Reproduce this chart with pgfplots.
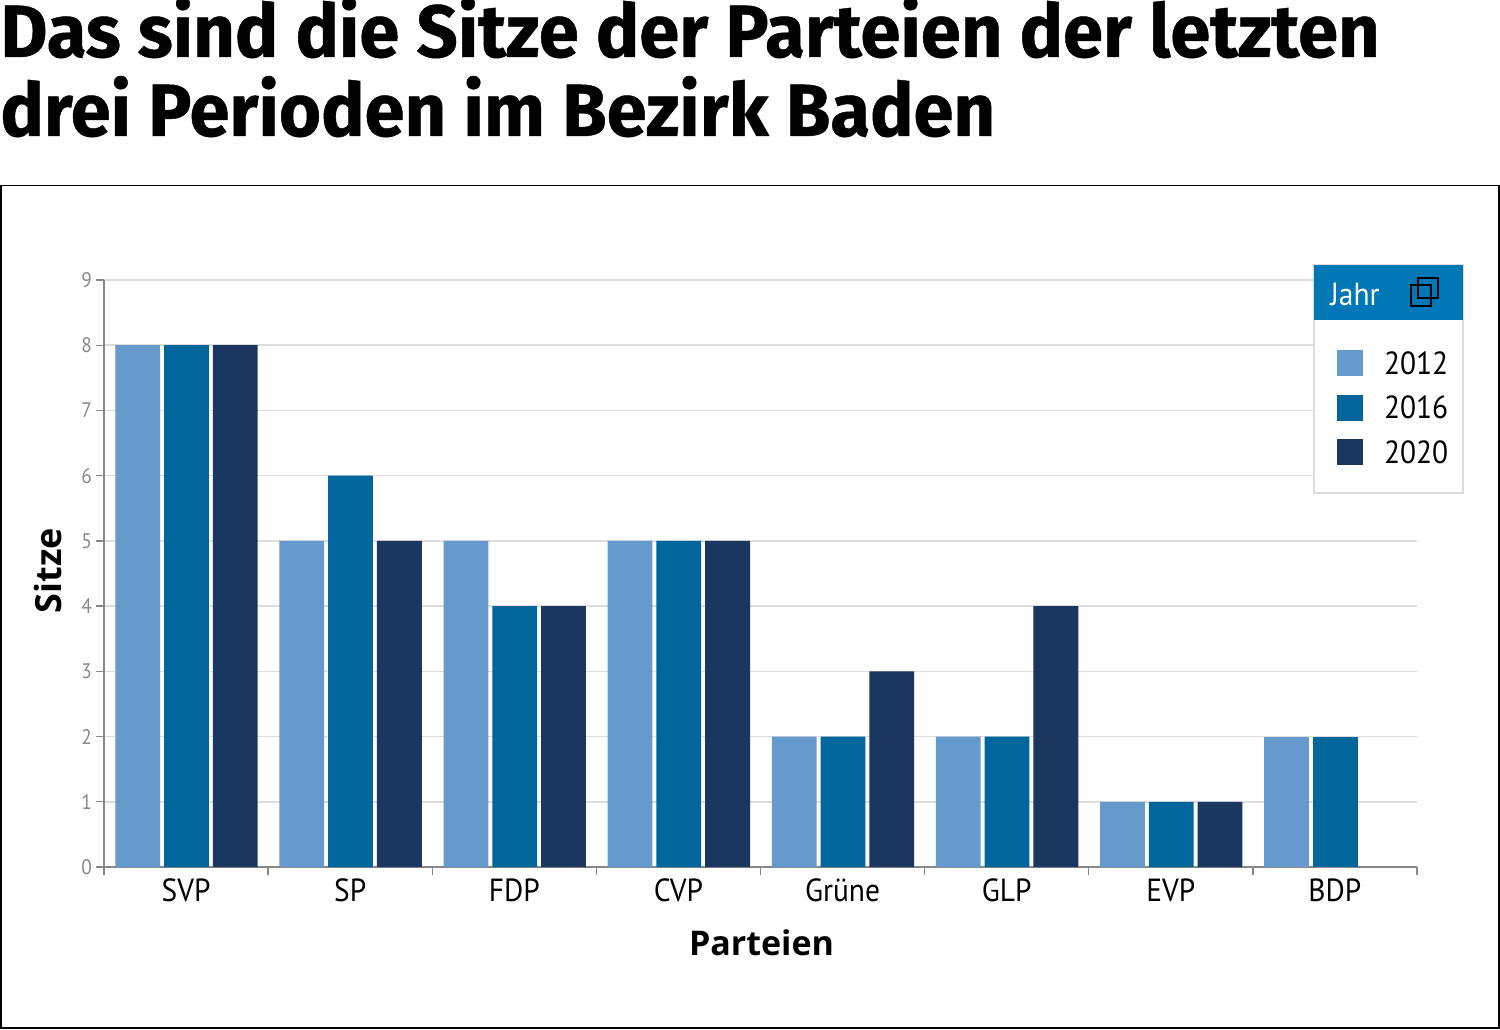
\documentclass[border=0pt]{standalone}
\usepackage{pgfplots}
\pgfplotsset{compat=1.18}
\usepackage{fontspec}
\setmainfont{PT Sans}
\newfontfamily\titlefont[FakeBold=0.6,FakeStretch=0.978]{Fira Sans Bold}
\newfontfamily\lab[FakeStretch=0.92]{PT Sans}
\newfontfamily\labb{Open Sans Bold}
\definecolor{cA}{HTML}{6699CC}
\definecolor{cB}{HTML}{00669C}
\definecolor{cC}{HTML}{1B365F}
\definecolor{head}{HTML}{0077B6}
\definecolor{gr}{HTML}{DDDDDD}
\definecolor{ax}{HTML}{888888}
\pgfplotstableread{
x y12 y16 y20
0.5 8 8 8
1.5 5 6 5
2.5 5 4 4
3.5 5 5 5
4.5 2 2 3
5.5 2 2 4
6.5 1 1 1
}\seats
\pgfplotstableread{
x y12 y16
7.5 2 2
}\seatsb
\begin{document}
\begin{tikzpicture}[x=1pt,y=1pt]
\useasboundingbox (0,0) rectangle (750,514.5);
\draw[black,line width=0.7pt] (0.5,0.5) rectangle (749.5,421.8);
\node[anchor=base west,inner sep=0pt,font=\titlefont\fontsize{37}{37}\selectfont] at (0,486) {Das sind die Sitze der Parteien der letzten};
\node[anchor=base west,inner sep=0pt,font=\titlefont\fontsize{37}{37}\selectfont] at (0,446.5) {drei Perioden im Bezirk Baden};
\begin{axis}[
  at={(52pt,81pt)},anchor=origin,
  scale only axis,width=656.5pt,height=293.5pt,
  xmin=0,xmax=8,ymin=0,ymax=9,
  axis x line*=bottom,axis y line*=left,
  axis line style={ax,line width=0.8pt,-},
  xtick={0.5,...,7.5},
  xticklabels={SVP,SP,FDP,CVP,Grüne,GLP,EVP,BDP},
  minor xtick={0,...,8},
  ytick={0,...,9},
  ymajorgrids,
  grid style={gr,line width=0.75pt},
  major x tick style={draw=none},
  major tick length=4pt,minor tick length=4pt,
  tick style={ax,line width=0.7pt},
  tick align=outside,
  x tick label style={font=\lab\fontsize{16}{16}\selectfont,text=black,yshift=1.5pt},
  y tick label style={font=\lab\fontsize{10.5}{10.5}\selectfont,text=ax,xshift=1.5pt,/pgf/number format/assume math mode=true},
  xlabel={\labb Parteien},
  ylabel={\labb Sitze},
  xlabel style={font=\labb\fontsize{17}{17}\selectfont,at={(axis description cs:0.5,0)},anchor=base,yshift=-44pt,xshift=0.5pt},
  ylabel style={font=\labb\fontsize{18}{18}\selectfont,at={(axis description cs:0,0.5)},anchor=base,yshift=21pt,xshift=1.5pt},
  ybar,bar width=22.4pt,
  clip=false,
  legend entries={2012,2016,2020},
  legend cell align=left,
  legend image code/.code={\fill[#1] (0,-1pt) rectangle (13pt,12pt);},
  legend style={
    at={(rel axis cs:0.9391,0.8841)},anchor=north west,
    draw=none,fill=none,inner sep=0pt,outer sep=0pt,
    font=\lab\fontsize{16}{16}\selectfont,
    /tikz/row sep=8.3pt,/tikz/column sep=10.5pt,
    nodes={inner ysep=0pt,inner xsep=0pt,text height=13pt,text depth=0pt,anchor=base west},
  },
]
\addplot[fill=cA,draw=none,bar shift=-24.2pt] table[x=x,y=y12]{\seats};
\addplot[fill=cB,draw=none,bar shift=0.2pt] table[x=x,y=y16]{\seats};
\addplot[fill=cC,draw=none,bar shift=24.6pt] table[x=x,y=y20]{\seats};
\addplot[fill=cA,draw=none,bar shift=-24.2pt] table[x=x,y=y12]{\seatsb};
\addplot[fill=cB,draw=none,bar shift=0.2pt] table[x=x,y=y16]{\seatsb};
\draw[gr,fill=white,line width=0.6pt] (rel axis cs:0.9215,0.6371) rectangle (rel axis cs:1.0350,1.0256);
\fill[head] (rel axis cs:0.9215,0.9319) rectangle (rel axis cs:1.0350,1.0256);
\end{axis}
\node[anchor=base west,inner sep=0pt,text=white,font=\lab\fontsize{16}{16}\selectfont] at (665,361.5) {Jahr};
\draw[black,line width=1.3pt] (705.5,361.5) rectangle (715.5,372);
\draw[black,line width=1.3pt] (709,365.5) rectangle (719,375.5);
\end{tikzpicture}
\end{document}
